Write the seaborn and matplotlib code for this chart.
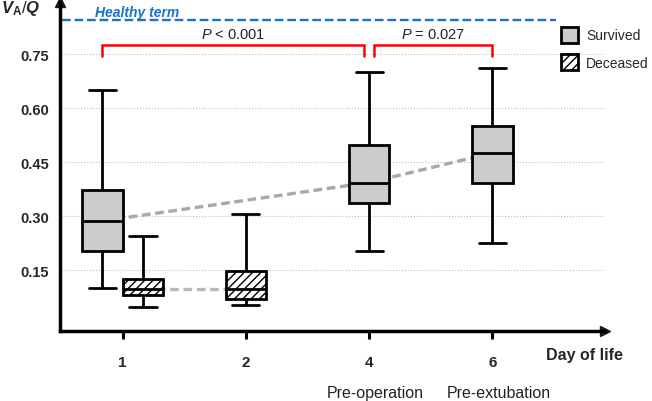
import pandas as pd
import numpy as np
import matplotlib
matplotlib.use("Agg")
import matplotlib.pyplot as plt
from matplotlib.patches import Patch
import seaborn as sns

# ---------------------------
# DATA (five-number summaries: min, Q1, median, Q3, max)
# ---------------------------
days = ["1", "2", "4", "6"]
sub_labels = ["", "", "Pre-operation", "Pre-extubation"]
statuses = ["Survived", "Deceased"]

survived_day1 = [0.100, 0.204, 0.287, 0.374, 0.651]
deceased_day1 = [0.049, 0.080, 0.098, 0.126, 0.246]
deceased_day2 = [0.052, 0.070, 0.098, 0.147, 0.306]
survived_day4 = [0.204, 0.338, 0.394, 0.498, 0.702]
survived_day6 = [0.225, 0.392, 0.476, 0.551, 0.713]

healthy_term = 0.846
yticks = [0.15, 0.30, 0.45, 0.60, 0.75]
p_labels = ["P < 0.001", "P = 0.027"]

groups = [
    ("1", "Survived", survived_day1),
    ("1", "Deceased", deceased_day1),
    ("2", "Deceased", deceased_day2),
    ("4", "Survived", survived_day4),
    ("6", "Survived", survived_day6),
]
df = pd.DataFrame(
    [(d, s, v) for d, s, vals in groups for v in vals],
    columns=["day", "status", "value"],
)

# ---------------------------
# STYLE
# ---------------------------
sns.set_theme(style="white")
plt.rcParams["font.family"] = ["Liberation Sans", "DejaVu Sans"]
plt.rcParams["mathtext.fontset"] = "custom"
plt.rcParams["mathtext.rm"] = "Liberation Sans"
plt.rcParams["mathtext.it"] = "Liberation Sans:italic"
plt.rcParams["mathtext.bf"] = "Liberation Sans:bold"
plt.rcParams["mathtext.bfit"] = "Liberation Sans:italic:bold"
plt.rcParams["hatch.linewidth"] = 1.0

palette = {"Survived": "#cccccc", "Deceased": "white"}
box_width = 0.33
lw = 2.0

fig, ax = plt.subplots(figsize=(6.52, 4.02), dpi=100)
fig.subplots_adjust(left=60 / 652, right=605 / 652, bottom=70 / 402, top=399 / 402)

common = dict(x="day", y="value", hue="status", order=days, hue_order=statuses,
              palette=palette, whis=(0, 100), linecolor="black", linewidth=lw,
              fliersize=0, legend=False, ax=ax)

# day 1: survived and deceased side by side
sns.boxplot(data=df[df["day"] == "1"], dodge=True, width=2 * box_width,
            capwidths=0.22, **common)
# later days: one group each, centred on the tick
sns.boxplot(data=df[df["day"] != "1"], dodge=False, width=box_width,
            capwidths=0.22, **common)

for patch in ax.patches:
    if np.allclose(patch.get_facecolor()[:3], (1, 1, 1)):
        patch.set_hatch("////")

# ---------------------------
# MEDIAN TREND LINES
# ---------------------------
medians = df.groupby(["day", "status"])["value"].median()
shift = box_width / 2


def xpos(day, status):
    off = 0.0
    if day == "1":
        off = -shift if status == "Survived" else shift
    return days.index(day) + off


for status, color in [("Survived", "#a8a8a8"), ("Deceased", "#b8b8b8")]:
    pts = [(xpos(d, status), medians[(d, status)]) for d in days if (d, status) in medians.index]
    xs, ys = zip(*pts)
    ax.plot(xs, ys, color=color, lw=2.4, ls=(0, (2.6, 1.4)), zorder=1)

# ---------------------------
# SIGNIFICANCE BRACKETS
# ---------------------------
gap = 0.04
brackets = [
    (xpos("1", "Survived"), xpos("4", "Survived") - gap, p_labels[0]),
    (xpos("4", "Survived") + gap, xpos("6", "Survived"), p_labels[1]),
]
top, leg = 0.777, 0.745
for x0, x1, lab in brackets:
    ax.plot([x0, x0, x1, x1], [leg, top, top, leg],
            color="red", lw=1.8, solid_joinstyle="miter", clip_on=False)
    word, rest = lab.split(" ", 1)
    ax.text((x0 + x1) / 2, 0.808, r"$\mathit{" + word + "}$ " + rest,
            ha="center", va="center", fontsize=10.5, color="#222222")

# ---------------------------
# HEALTHY TERM REFERENCE
# ---------------------------
ax.axhline(healthy_term, xmin=0.004, xmax=0.91, color="#1a73c8", lw=1.7, ls="--", clip_on=False)
ax.text(0.064, healthy_term + 0.004, "Healthy term", transform=ax.get_yaxis_transform(),
        ha="left", va="bottom", fontsize=10, fontweight="bold", fontstyle="italic",
        color="#1a73c8")

# ---------------------------
# AXES
# ---------------------------
ax.set_xlim(-0.509, 3.915)
ax.set_ylim(-0.019, 0.896)
ax.set_yticks(yticks)
ax.set_yticklabels([f"{t:.2f}" for t in yticks], fontsize=10.5, fontweight="bold")
ax.set_xticks(range(len(days)))
ax.set_xticklabels(days, fontsize=11, fontweight="bold")
ax.tick_params(axis="y", length=0, pad=8)
ax.tick_params(axis="x", length=6, width=2.2, pad=11, color="black", direction="out",
               bottom=True)
ax.set_xlabel("")
ax.set_ylabel("")

ax.set_axisbelow(True)
ax.yaxis.grid(True, ls=":", lw=0.8, color="#bdbdbd")
ax.xaxis.grid(False)

for side in ["top", "right"]:
    ax.spines[side].set_visible(False)
for side in ["left", "bottom"]:
    ax.spines[side].set_linewidth(2.5)
    ax.spines[side].set_color("black")

ax.plot(1, 0, ">k", ms=7.5, transform=ax.transAxes, clip_on=False)
ax.plot(0, 1, "^k", ms=7.5, transform=ax.transAxes, clip_on=False)

for i, lab in enumerate(sub_labels):
    if lab:
        ax.text(i + 0.05, -0.186, lab, transform=ax.get_xaxis_transform(),
                ha="center", va="center", fontsize=11.5, color="#222222")

ax.text(0.963, -0.072, "Day of life", transform=ax.transAxes, ha="center",
        va="center", fontsize=11.5, fontweight="bold")

fig.text(0.002, 1 - 9 / 402, r"$\mathbfit{V}_{\mathbf{A}}/\mathbfit{Q}$",
         ha="left", va="center", fontsize=12)

# ---------------------------
# LEGEND
# ---------------------------
handles = [
    Patch(facecolor="#cccccc", edgecolor="black", lw=2.0, label="Survived"),
    Patch(facecolor="white", edgecolor="black", lw=2.0, hatch="////", label="Deceased"),
]
fig.legend(handles=handles, loc="upper left", bbox_to_anchor=(561 / 652, 1 - 28 / 402),
           frameon=False, fontsize=10, handlelength=1.25, handleheight=1.35,
           handletextpad=0.55, labelspacing=0.85, borderpad=0, borderaxespad=0)

plt.savefig("out.png", dpi=100)
